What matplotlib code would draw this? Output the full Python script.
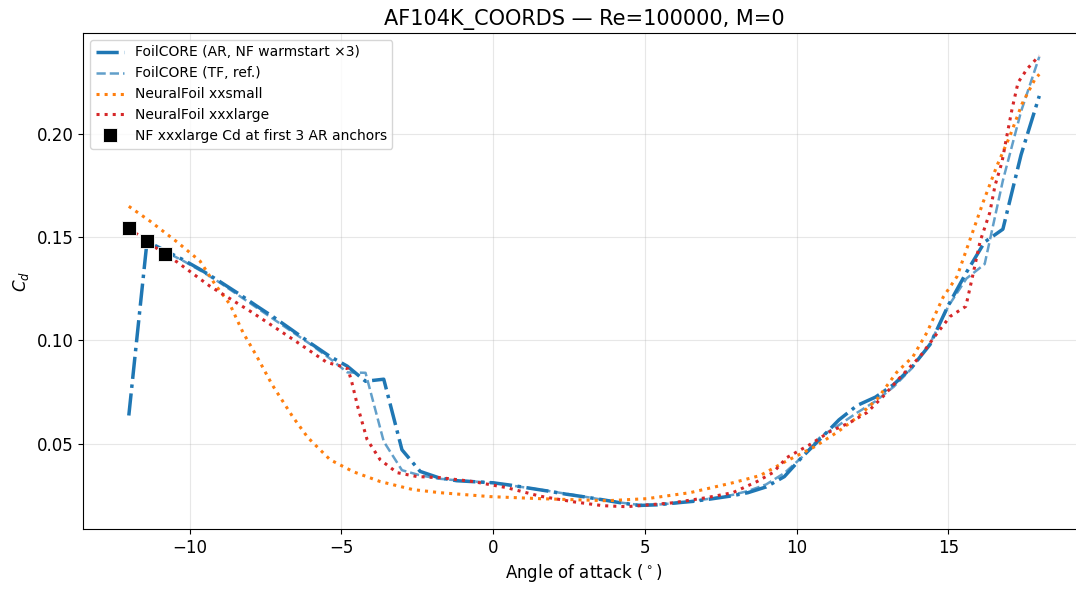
import numpy as np
import matplotlib.pyplot as plt

# FoilCORE AR (NF warmstart x3), alpha grid step 0.6
alpha_ar = [-12.0, -11.4, -10.8, -10.2, -9.6, -9.0, -8.4, -7.8, -7.2, -6.6,
            -6.0, -5.4, -4.8, -4.2, -3.6, -3.0, -2.4, -1.8, -1.2, -0.6,
            0.0, 0.6, 1.2, 1.8, 2.4, 3.0, 3.6, 4.2, 4.8, 5.4,
            6.0, 6.6, 7.2, 7.8, 8.4, 9.0, 9.6, 10.2, 10.8, 11.4,
            12.0, 12.6, 13.2, 13.8, 14.4, 15.0, 15.6, 16.2, 16.8, 17.4, 18.0]
cd_ar = [0.0636, 0.148, 0.1435, 0.139, 0.134, 0.1285, 0.1228, 0.1168, 0.111, 0.1048,
         0.0985, 0.0925, 0.0875, 0.0802, 0.0812, 0.047, 0.0365, 0.0335, 0.032, 0.0315,
         0.031, 0.0298, 0.0284, 0.027, 0.0255, 0.0242, 0.0228, 0.0213, 0.0200, 0.0203,
         0.0212, 0.022, 0.0232, 0.0245, 0.0262, 0.029, 0.034, 0.0437, 0.0525, 0.0615,
         0.0685, 0.0725, 0.0786, 0.087, 0.098, 0.117, 0.133, 0.1477, 0.1539, 0.19, 0.2185]

# FoilCORE TF reference
alpha_tf = alpha_ar[1:]
cd_tf = [0.1475, 0.143, 0.1385, 0.1335, 0.128, 0.122, 0.116, 0.110, 0.104,
         0.098, 0.0915, 0.0845, 0.0843, 0.051, 0.0371, 0.0346, 0.033, 0.0322, 0.0316,
         0.031, 0.0297, 0.0284, 0.0271, 0.0257, 0.0243, 0.0228, 0.0214, 0.0203, 0.0204,
         0.0211, 0.0222, 0.0234, 0.0248, 0.027, 0.0302, 0.0357, 0.0437, 0.0535, 0.059,
         0.065, 0.0705, 0.0775, 0.0865, 0.0985, 0.1165, 0.130, 0.137, 0.1775, 0.211, 0.2375]

# NeuralFoil xxsmall
alpha_xs = [-12.0, -11.3, -10.4, -9.65, -9.16, -8.67, -8.24, -7.78, -7.28, -6.6,
            -6.1, -5.37, -4.61, -3.72, -2.64, -1.75, -0.1, 1.55, 3.76, 5.07,
            6.49, 7.9, 8.8, 9.6, 10.6, 11.37, 11.99, 12.65, 13.3, 13.84,
            14.3, 14.83, 15.29, 15.72, 16.15, 16.6, 17.03, 17.43, 17.86, 18.0]
cd_xs = [0.165, 0.1578, 0.1476, 0.1384, 0.1272, 0.1175, 0.1039, 0.0922, 0.0786, 0.063,
         0.0529, 0.0422, 0.0364, 0.0316, 0.0277, 0.0262, 0.0243, 0.0233, 0.0223, 0.0233,
         0.0262, 0.031, 0.0345, 0.041, 0.0485, 0.0558, 0.0626, 0.0714, 0.0845, 0.0922,
         0.1039, 0.1209, 0.131, 0.149, 0.167, 0.1845, 0.199, 0.2146, 0.2267, 0.229]

# NeuralFoil xxxlarge
alpha_xl = [-12.0, -11.4, -10.8, -10.4, -9.32, -7.94, -6.59, -5.47, -5.0, -4.78,
            -4.65, -4.45, -4.15, -3.72, -3.16, -2.5, -1.75, -0.66, 0.46, 1.55,
            2.64, 3.62, 4.4, 5.93, 7.04, 7.9, 8.7, 9.23, 9.68, 10.44,
            11.1, 11.76, 12.32, 12.85, 13.41, 14.07, 14.63, 15.06, 15.58, 15.8,
            16.05, 16.37, 16.54, 16.77, 16.93, 17.1, 17.3, 17.6, 18.0]
cd_xl = [0.1544, 0.148, 0.1417, 0.1379, 0.1262, 0.1136, 0.1005, 0.0893, 0.0875, 0.0862,
         0.0796, 0.0675, 0.052, 0.0422, 0.0359, 0.034, 0.0335, 0.0316, 0.0286, 0.0245,
         0.0218, 0.0199, 0.0194, 0.0213, 0.0238, 0.0262, 0.0316, 0.036, 0.0432, 0.0495,
         0.0558, 0.0602, 0.065, 0.0728, 0.082, 0.0922, 0.1034, 0.1116, 0.1165, 0.131,
         0.148, 0.162, 0.175, 0.1864, 0.199, 0.212, 0.225, 0.2316, 0.238]

# anchors
alpha_anc = [-12.0, -11.4, -10.8]
cd_anc = [0.1544, 0.148, 0.1417]

fig = plt.figure(figsize=(10.76, 5.9), dpi=100)
ax = fig.add_axes([0.0774, 0.1034, 0.9308, 0.8407])

ax.plot(alpha_ar, cd_ar, '-.', color='C0', lw=2.5, label='FoilCORE (AR, NF warmstart \u00d73)')
ax.plot(alpha_tf, cd_tf, '--', color='C0', lw=1.8, alpha=0.7, label='FoilCORE (TF, ref.)')
ax.plot(alpha_xs, cd_xs, ':', color='C1', lw=2.2, label='NeuralFoil xxsmall')
ax.plot(alpha_xl, cd_xl, ':', color='C3', lw=2.2, label='NeuralFoil xxxlarge')
ax.plot(alpha_anc, cd_anc, 's', color='k', ms=9.5, mec='w', mew=0.6, ls='none', zorder=5,
        label='NF xxxlarge Cd at first 3 AR anchors')

ax.set_xlim(-13.5, 19.5)
ax.set_ylim(0.0086, 0.249)
ax.set_xticks([-10, -5, 0, 5, 10, 15])
ax.set_yticks([0.05, 0.10, 0.15, 0.20])
ax.tick_params(labelsize=12)
ax.grid(True, alpha=0.3)
ax.set_xlabel(r'Angle of attack ($^\circ$)', fontsize=12)
ax.set_ylabel(r'$C_d$', fontsize=12)
ax.set_title('AF104K_COORDS \u2014 Re=100000, M=0', fontsize=15)
ax.legend(loc='upper left', fontsize=10)

fig.savefig('out.png', dpi=100)
